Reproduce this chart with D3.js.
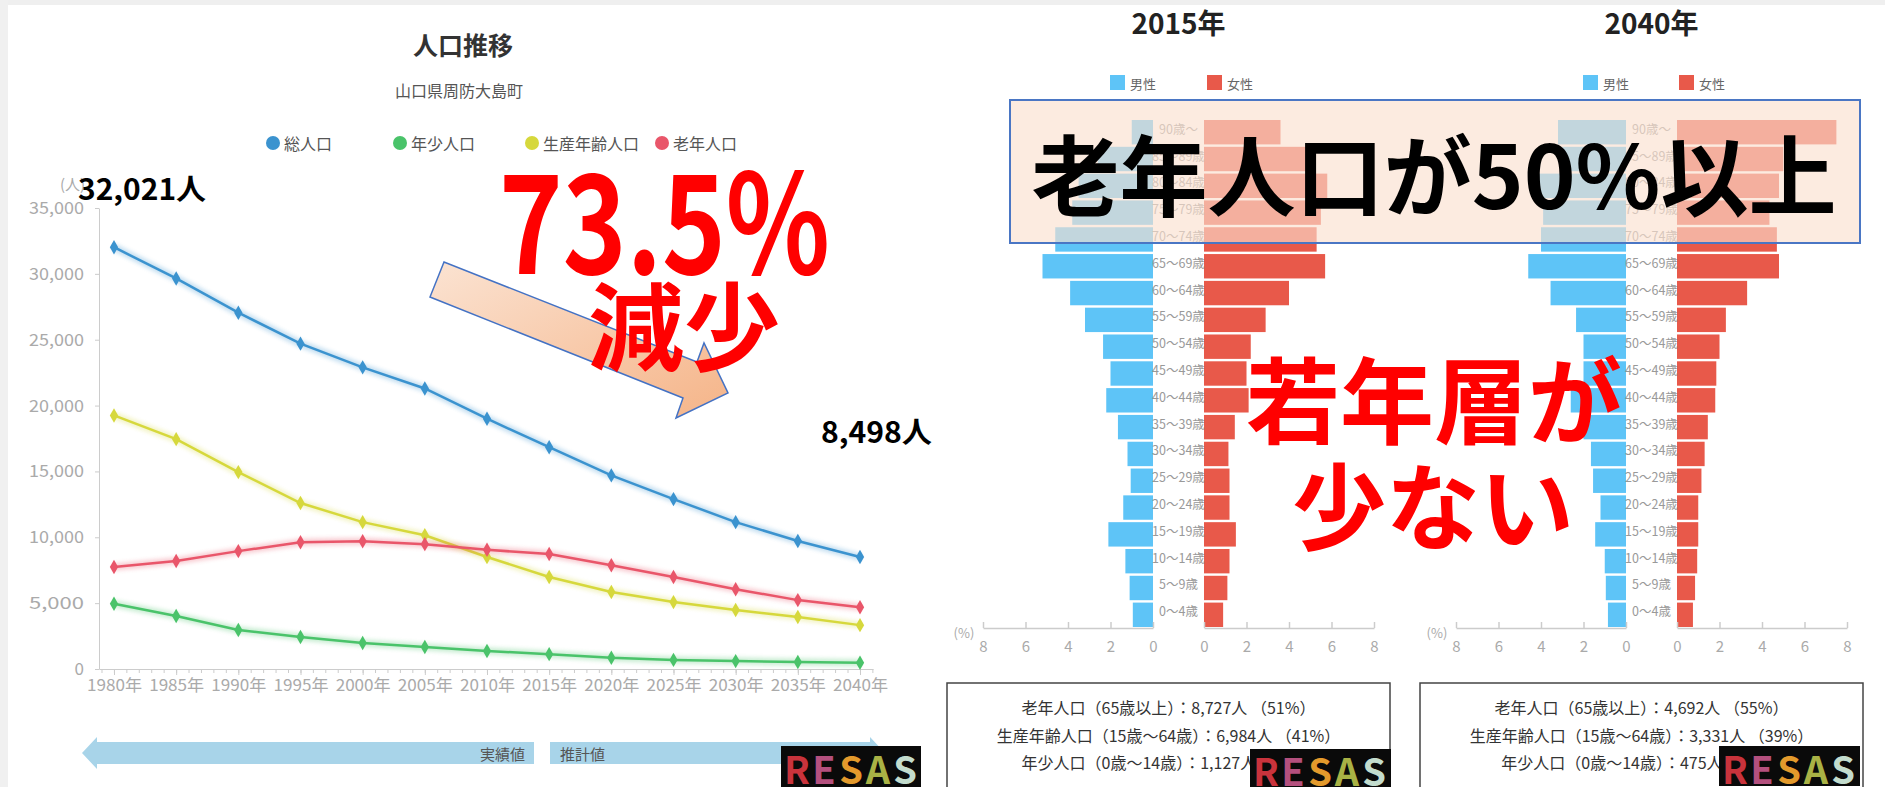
<!DOCTYPE html>
<html>
<head>
<meta charset="utf-8">
<script src="https://cdn.jsdelivr.net/npm/d3@7"></script>
<style>
  body { margin: 0; background: #fff; }
  svg { display: block; }
  text { font-family: "Noto Sans CJK JP", "Noto Sans", sans-serif; }
</style>
</head>
<body>
<div id="viz"></div>
<script>
// 人口推移 data
var years = [1980, 1985, 1990, 1995, 2000, 2005, 2010, 2015, 2020, 2025, 2030, 2035, 2040];
var totalPop = [32021, 29650, 27050, 24700, 22900, 21300, 19000, 16838, 14700, 12900, 11150, 9720, 8498];
var youngPop = [4950, 4020, 2960, 2430, 1970, 1670, 1370, 1127, 850, 690, 600, 530, 475];
var workingPop = [19250, 17450, 14950, 12600, 11150, 10150, 8500, 6984, 5840, 5080, 4480, 3950, 3331];
var oldPop = [7750, 8200, 8950, 9620, 9700, 9480, 9050, 8727, 7880, 6980, 6060, 5230, 4692];
var seriesNames = ['総人口', '年少人口', '生産年齢人口', '老年人口'];
var yTicks = [0, 5000, 10000, 15000, 20000, 25000, 30000, 35000];

// pyramid data (% of total)
var ageGroups = ['90歳～', '85～89歳', '80～84歳', '75～79歳', '70～74歳', '65～69歳', '60～64歳',
  '55～59歳', '50～54歳', '45～49歳', '40～44歳', '35～39歳', '30～34歳', '25～29歳',
  '20～24歳', '15～19歳', '10～14歳', '5～9歳', '0～4歳'];
var male2015 = [1.0, 2.6, 3.5, 3.8, 4.6, 5.2, 3.9, 3.2, 2.35, 2.0, 2.2, 1.65, 1.2, 1.05, 1.4, 2.1, 1.3, 1.1, 0.95];
var female2015 = [3.6, 5.0, 5.8, 5.5, 5.3, 5.7, 4.0, 2.9, 2.2, 2.0, 2.1, 1.45, 1.15, 1.2, 1.2, 1.5, 1.2, 1.1, 0.9];
var male2040 = [3.2, 3.0, 4.2, 3.9, 4.0, 4.6, 3.55, 2.35, 2.0, 2.0, 2.6, 2.0, 1.65, 1.55, 1.2, 1.45, 1.0, 0.95, 0.85];
var female2040 = [7.5, 5.0, 4.8, 4.35, 4.7, 4.8, 3.3, 2.3, 2.0, 1.85, 1.8, 1.45, 1.3, 1.15, 1.0, 1.0, 0.95, 0.85, 0.75];
var pctTicks = [0, 2, 4, 6, 8];
var summary2015 = ['老年人口（65歳以上）：8,727人 （51%）', '生産年齢人口（15歳～64歳）：6,984人 （41%）', '年少人口（0歳～14歳）：1,127人 （7%）'];
var summary2040 = ['老年人口（65歳以上）：4,692人 （55%）', '生産年齢人口（15歳～64歳）：3,331人 （39%）', '年少人口（0歳～14歳）：475人 （6%）'];

var colors = ['#3b93cf', '#4ac36a', '#d6d83c', '#e9566a'];
var maleColor = '#5ec4f7', femaleColor = '#e8594a';

var svg = d3.select('#viz').append('svg').attr('width', 1885).attr('height', 787);
var defs = svg.append('defs');
var grad = defs.append('linearGradient').attr('id', 'arrowGrad')
  .attr('x1', '0%').attr('y1', '0%').attr('x2', '100%').attr('y2', '100%');
grad.append('stop').attr('offset', '0%').attr('stop-color', '#fbe3d2');
grad.append('stop').attr('offset', '100%').attr('stop-color', '#f5b488');
defs.append('filter').attr('id', 'glow').append('feGaussianBlur').attr('stdDeviation', 2);

// page edges
svg.append('rect').attr('width', 1885).attr('height', 5).attr('fill', '#efefef');
svg.append('rect').attr('width', 8).attr('height', 787).attr('fill', '#f0f0f0');

/* ---- left line chart ---- */
var x = d3.scaleLinear().domain([1980, 2040]).range([114, 860]);
var y = d3.scaleLinear().domain([0, 35000]).range([669, 208]);

svg.append('text').attr('x', 463).attr('y', 44).attr('text-anchor', 'middle')
  .attr('dominant-baseline', 'central').attr('font-size', 25).attr('font-weight', 700)
  .attr('fill', '#333').text('人口推移');
svg.append('text').attr('x', 459).attr('y', 90).attr('text-anchor', 'middle')
  .attr('dominant-baseline', 'central').attr('font-size', 16).attr('fill', '#555').text('山口県周防大島町');

var legendX = [273, 400, 532, 662];
var legend = svg.selectAll('.legend').data(seriesNames).enter().append('g')
  .attr('transform', (d, i) => `translate(${legendX[i]},143)`);
legend.append('circle').attr('r', 7).attr('fill', (d, i) => colors[i]);
legend.append('text').attr('x', 11).attr('dominant-baseline', 'central')
  .attr('font-size', 16).attr('fill', '#555').text(d => d);

// axes
var yAxis = d3.axisLeft(y).tickValues(yTicks).tickSize(4).tickSizeOuter(0).tickPadding(11)
  .tickFormat(d3.format(','));
var gy = svg.append('g').attr('transform', 'translate(99,0)').call(yAxis);
gy.selectAll('text').attr('font-size', 17).attr('fill', '#aaa')
  .attr('textLength', d => d ? 55 : null).attr('lengthAdjust', 'spacingAndGlyphs');
gy.selectAll('line,path').attr('stroke', '#ccc');

var xMinor = x.copy().domain([1978.8, 2041.05]).range([99, 873]);
var gxm = svg.append('g').attr('transform', 'translate(0,669)')
  .call(d3.axisBottom(xMinor).tickValues(d3.range(1979, 2042)).tickSize(4).tickSizeOuter(0).tickFormat(''));
gxm.selectAll('line,path').attr('stroke', '#ccc');
var gx = svg.append('g').attr('transform', 'translate(0,669)')
  .call(d3.axisBottom(x).tickValues(years).tickSize(6).tickPadding(5).tickFormat(d => d + '年'));
gx.select('.domain').remove();
gx.selectAll('line').attr('stroke', '#ccc');
gx.selectAll('text').attr('font-size', 16).attr('fill', '#aaa')
  .attr('textLength', 55).attr('lengthAdjust', 'spacingAndGlyphs');

svg.append('text').attr('x', 60).attr('y', 190).attr('font-size', 15).attr('fill', '#aaa').text('(人)');

var series = [totalPop, youngPop, workingPop, oldPop];
var line = d3.line().x((d, i) => x(years[i])).y(d => y(d));
series.forEach(function (s, k) {
  svg.append('path').datum(s).attr('d', line).attr('fill', 'none')
    .attr('stroke', colors[k]).attr('stroke-width', 7).attr('opacity', 0.3).attr('filter', 'url(#glow)');
  svg.append('path').datum(s).attr('d', line).attr('fill', 'none')
    .attr('stroke', colors[k]).attr('stroke-width', 2.5);
  svg.selectAll('.pt' + k).data(s).enter().append('path')
    .attr('transform', (d, i) => `translate(${x(years[i])},${y(d)})`)
    .attr('d', d3.symbol(d3.symbolDiamond, 60)).attr('fill', colors[k]);
});

// 実績値 / 推計値 band
svg.append('path').attr('d', 'M82,753 L97,737 L97,742 L534,742 L534,764 L97,764 L97,769 Z').attr('fill', '#a8d4e9');
svg.append('path').attr('d', 'M550,742 L870,742 L870,737 L885,753 L870,769 L870,764 L550,764 Z').attr('fill', '#a8d4e9');
svg.append('text').attr('x', 525).attr('y', 753).attr('text-anchor', 'end').attr('dominant-baseline', 'central')
  .attr('font-size', 15).attr('fill', '#555').text('実績値');
svg.append('text').attr('x', 560).attr('y', 753).attr('dominant-baseline', 'central')
  .attr('font-size', 15).attr('fill', '#555').text('推計値');

// annotations
svg.append('text').attr('x', 78).attr('y', 200).attr('font-family', '"Liberation Sans", "Noto Sans CJK JP"')
  .attr('font-size', 29).attr('font-weight', 700).attr('textLength', 128).attr('lengthAdjust', 'spacingAndGlyphs')
  .attr('fill', '#000').text(d3.format(',')(totalPop[0]) + '人');
svg.append('text').attr('x', 821).attr('y', 443).attr('font-family', '"Liberation Sans", "Noto Sans CJK JP"')
  .attr('font-size', 29).attr('font-weight', 700).attr('textLength', 111).attr('lengthAdjust', 'spacingAndGlyphs')
  .attr('fill', '#000').text(d3.format(',')(totalPop[totalPop.length - 1]) + '人');

svg.append('path').attr('d', 'M444,262 L430,297 L683,398 L676,418 L728,393 L704,343 L697,362 Z')
  .attr('fill', 'url(#arrowGrad)').attr('stroke', '#4472c4').attr('stroke-width', 1.5);
svg.append('text').attr('x', 499).attr('y', 274).attr('font-family', '"Liberation Sans", sans-serif')
  .attr('font-size', 138).attr('font-weight', 700).attr('textLength', 331).attr('lengthAdjust', 'spacingAndGlyphs')
  .attr('fill', '#ff0000').text('73.5%');
svg.append('text').attr('x', 684).attr('y', 321).attr('text-anchor', 'middle').attr('dominant-baseline', 'central')
  .attr('font-size', 96).attr('font-weight', 700).attr('fill', '#ff0000').text('減少');

/* ---- pyramids ---- */
function drawPyramid(p) {
  var g = svg.append('g');
  var xm = d3.scaleLinear().domain([0, 8]).range([p.male0, p.male0 - 170]);
  var xf = d3.scaleLinear().domain([0, 8]).range([p.female0, p.female0 + 170]);
  var yb = d3.scaleBand().domain(ageGroups).range([120, 627]).paddingInner(0.09);
  var cx = (p.male0 + p.female0) / 2;

  g.append('text').attr('x', cx).attr('y', 22).attr('text-anchor', 'middle').attr('dominant-baseline', 'central')
    .attr('font-size', 28).attr('font-weight', 700).attr('fill', '#222').text(p.title);

  [['男性', maleColor, p.legend0], ['女性', femaleColor, p.legend1]].forEach(function (l) {
    g.append('rect').attr('x', l[2]).attr('y', 75).attr('width', 15).attr('height', 15).attr('fill', l[1]);
    g.append('text').attr('x', l[2] + 20).attr('y', 83).attr('dominant-baseline', 'central')
      .attr('font-size', 13).attr('fill', '#666').text(l[0]);
  });

  g.selectAll('.m').data(p.male).enter().append('rect')
    .attr('x', d => xm(d)).attr('y', (d, i) => yb(ageGroups[i]))
    .attr('width', d => p.male0 - xm(d)).attr('height', yb.bandwidth()).attr('fill', maleColor);
  g.selectAll('.f').data(p.female).enter().append('rect')
    .attr('x', p.female0).attr('y', (d, i) => yb(ageGroups[i]))
    .attr('width', d => xf(d) - p.female0).attr('height', yb.bandwidth()).attr('fill', femaleColor);
  g.selectAll('.age').data(ageGroups).enter().append('text')
    .attr('x', cx).attr('y', d => yb(d) + yb.bandwidth() / 2 - 4).attr('text-anchor', 'middle')
    .attr('dominant-baseline', 'central').attr('font-size', 12.5).attr('fill', '#999').text(d => d);

  var am = g.append('g').attr('transform', 'translate(0,628)')
    .call(d3.axisBottom(xm).tickValues(pctTicks).tickSize(-6).tickSizeOuter(0).tickPadding(13));
  var af = g.append('g').attr('transform', 'translate(0,628)')
    .call(d3.axisBottom(xf).tickValues(pctTicks).tickSize(-6).tickSizeOuter(0).tickPadding(13));
  [am, af].forEach(function (a) {
    a.selectAll('line,path').attr('stroke', '#ccc').attr('stroke-width', 1.5);
    a.selectAll('text').attr('font-size', 15).attr('fill', '#aaa');
  });
  g.append('text').attr('x', p.male0 - 189).attr('y', 632).attr('text-anchor', 'middle')
    .attr('dominant-baseline', 'central').attr('font-size', 13).attr('fill', '#aaa').text('(%)');

  g.append('rect').attr('x', p.box[0]).attr('y', 683).attr('width', p.box[1] - p.box[0]).attr('height', 110)
    .attr('fill', '#fff').attr('stroke', '#444').attr('stroke-width', 1.5);
  g.selectAll('.sum').data(p.summary).enter().append('text')
    .attr('x', (p.box[0] + p.box[1]) / 2).attr('y', (d, i) => 707 + i * 27.5)
    .attr('text-anchor', 'middle').attr('dominant-baseline', 'central')
    .attr('font-size', 16).attr('fill', '#333').text(d => d);
}

drawPyramid({title: '2015年', male0: 1153, female0: 1204, legend0: 1110, legend1: 1207,
  male: male2015, female: female2015, box: [947, 1390], summary: summary2015});
drawPyramid({title: '2040年', male0: 1626, female0: 1677, legend0: 1583, legend1: 1679,
  male: male2040, female: female2040, box: [1420, 1863], summary: summary2040});

// overlay box
svg.append('rect').attr('x', 1010).attr('y', 100).attr('width', 850).attr('height', 143)
  .attr('fill', '#fbe0cf').attr('fill-opacity', 0.64).attr('stroke', '#4a76c4').attr('stroke-width', 2);
svg.append('text').attr('x', 1434).attr('y', 170).attr('text-anchor', 'middle').attr('dominant-baseline', 'central')
  .attr('font-size', 88).attr('font-weight', 700).attr('textLength', 805).attr('lengthAdjust', 'spacingAndGlyphs')
  .attr('fill', '#000').text('老年人口が50%以上');

svg.append('text').attr('x', 1434).attr('y', 396).attr('text-anchor', 'middle').attr('dominant-baseline', 'central')
  .attr('font-size', 94).attr('font-weight', 700).attr('fill', '#ff0000').text('若年層が');
svg.append('text').attr('x', 1433).attr('y', 502).attr('text-anchor', 'middle').attr('dominant-baseline', 'central')
  .attr('font-size', 94).attr('font-weight', 700).attr('fill', '#ff0000').text('少ない');

// RESAS logos
var logoLetters = ['R', 'E', 'S', 'A', 'S'];
var logoColors = ['#c9333c', '#b4507e', '#e39a2c', '#a9b245', '#c3dccd'];
[[781, 746, 140, 41], [1250, 749, 141, 38], [1719, 746, 141, 40]].forEach(function (b) {
  svg.append('rect').attr('x', b[0]).attr('y', b[1]).attr('width', b[2]).attr('height', b[3]).attr('fill', '#0a0a0a');
  svg.selectAll(null).data(logoLetters).enter().append('text')
    .attr('x', (d, i) => b[0] + 16 + i * 27).attr('y', b[1] + b[3] / 2 + 1)
    .attr('text-anchor', 'middle').attr('dominant-baseline', 'central')
    .attr('font-family', '"Liberation Sans", sans-serif').attr('font-size', 38).attr('font-weight', 700)
    .attr('fill', (d, i) => logoColors[i]).text(d => d);
});
</script>
</body>
</html>
